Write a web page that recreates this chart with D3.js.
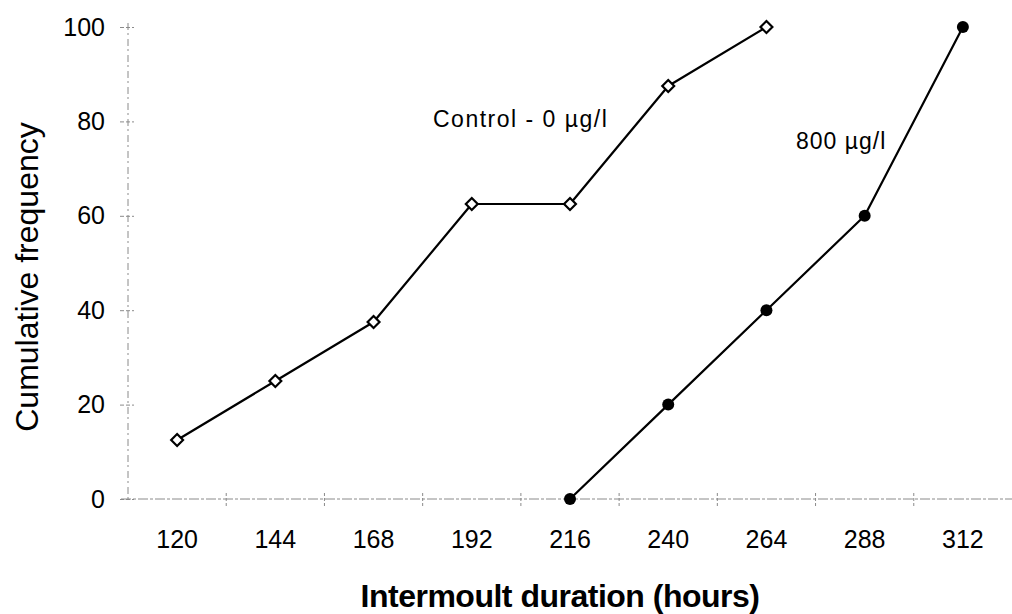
<!DOCTYPE html>
<html>
<head>
<meta charset="utf-8">
<script src="https://cdn.jsdelivr.net/npm/d3@7"></script>
<style>
  html, body { margin: 0; padding: 0; background: #fff; }
  svg { display: block; }
  text { font-family: "Liberation Sans", Arial, Helvetica, sans-serif; fill: #000; }
</style>
</head>
<body>
<svg id="chart" width="1012" height="614"></svg>
<script>
// Intermoult duration categories (hours) and y tick values
const hourCategories = [120, 144, 168, 192, 216, 240, 264, 288, 312];
const freqTicks = [0, 20, 40, 60, 80, 100];

// Control - 0 µg/l
const controlHours = [120, 144, 168, 192, 216, 240, 264];
const controlFreq = [12.5, 25, 37.5, 62.5, 62.5, 87.5, 100];

// 800 µg/l
const treatedHours = [216, 240, 264, 288, 312];
const treatedFreq = [0, 20, 40, 60, 100];

const svg = d3.select("#chart");

const x = d3.scaleBand()
  .domain(hourCategories)
  .range([128, 1012])
  .padding(0);
const cx = h => x(h) + x.bandwidth() / 2;

const y = d3.scaleLinear()
  .domain([0, 100])
  .range([499, 27]);

const axisGrey = "#8a8a8a";

// y axis: faint broken line with crossing tick marks
const yAxis = svg.append("g")
  .attr("transform", `translate(${x.range()[0]},0)`)
  .call(d3.axisLeft(y).tickValues(freqTicks).tickSize(0).tickPadding(23));
yAxis.select(".domain").remove();
yAxis.append("line")
  .attr("x1", 0).attr("x2", 0)
  .attr("y1", y(100) - 4).attr("y2", y(0))
  .attr("stroke", axisGrey).attr("stroke-width", 1)
  .attr("stroke-dasharray", "7,3,2,4");
yAxis.selectAll(".tick").append("line")
  .attr("x1", -8).attr("x2", 6)
  .attr("stroke", axisGrey).attr("stroke-width", 1)
  .attr("stroke-dasharray", "4,2");
yAxis.selectAll(".tick text")
  .style("font-size", "25px")
  .attr("fill", "#000");

// x axis: broken baseline, tick marks at category boundaries, labels at centres
const xAxis = svg.append("g")
  .attr("transform", `translate(0,${y(0)})`);
xAxis.append("line")
  .attr("x1", x.range()[0] - 7).attr("x2", x.range()[1])
  .attr("y1", 0).attr("y2", 0)
  .attr("stroke", axisGrey).attr("stroke-width", 1)
  .attr("stroke-dasharray", "10,2,3,2");
xAxis.selectAll(".bound")
  .data(hourCategories.slice(1))
  .join("line")
  .attr("class", "bound")
  .attr("x1", d => x(d)).attr("x2", d => x(d))
  .attr("y1", -6).attr("y2", 9)
  .attr("stroke", axisGrey).attr("stroke-width", 1)
  .attr("stroke-dasharray", "3,2");
xAxis.selectAll(".xlab")
  .data(hourCategories)
  .join("text")
  .attr("class", "xlab")
  .attr("x", d => cx(d))
  .attr("y", 49)
  .attr("text-anchor", "middle")
  .style("font-size", "25px")
  .text(d => d);

// axis titles
svg.append("text")
  .attr("transform", `translate(38,277) rotate(-90)`)
  .attr("text-anchor", "middle")
  .style("font-size", "32px")
  .text("Cumulative frequency");

svg.append("text")
  .attr("x", 560)
  .attr("y", 607)
  .attr("text-anchor", "middle")
  .style("font-size", "32px")
  .style("font-weight", "bold")
  .style("letter-spacing", "-0.5px")
  .text("Intermoult duration (hours)");

// series lines
const line = d3.line()
  .x(d => cx(d[0]))
  .y(d => y(d[1]));

const controlPts = d3.zip(controlHours, controlFreq);
const treatedPts = d3.zip(treatedHours, treatedFreq);

svg.append("path")
  .datum(controlPts)
  .attr("d", line)
  .attr("fill", "none")
  .attr("stroke", "#000")
  .attr("stroke-width", 2.2)
  .attr("stroke-linejoin", "round");

svg.append("path")
  .datum(treatedPts)
  .attr("d", line)
  .attr("fill", "none")
  .attr("stroke", "#000")
  .attr("stroke-width", 2.2)
  .attr("stroke-linejoin", "round");

// open diamond markers for the control
svg.selectAll(".diamond")
  .data(controlPts)
  .join("path")
  .attr("class", "diamond")
  .attr("transform", d => `translate(${cx(d[0])},${y(d[1])})`)
  .attr("d", d3.symbol(d3.symbolDiamond2, 90))
  .attr("fill", "#fff")
  .attr("stroke", "#000")
  .attr("stroke-width", 2.2);

// filled circle markers for 800 µg/l
svg.selectAll(".dot")
  .data(treatedPts)
  .join("circle")
  .attr("class", "dot")
  .attr("cx", d => cx(d[0]))
  .attr("cy", d => y(d[1]))
  .attr("r", 6)
  .attr("fill", "#000");

// series labels
svg.append("text")
  .attr("x", 433)
  .attr("y", 127)
  .style("font-size", "23px")
  .style("letter-spacing", "1.5px")
  .text("Control - 0 µg/l");

svg.append("text")
  .attr("x", 796)
  .attr("y", 149)
  .style("font-size", "23px")
  .style("letter-spacing", "1px")
  .text("800 µg/l");
</script>
</body>
</html>
